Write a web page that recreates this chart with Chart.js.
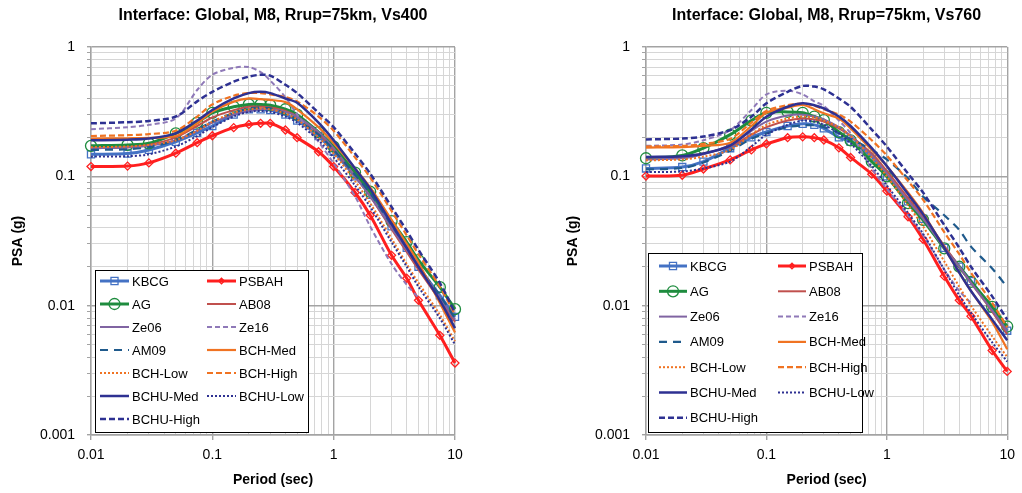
<!DOCTYPE html>
<html>
<head>
<meta charset="utf-8">
<script src="https://cdn.jsdelivr.net/npm/chart.js@4.4.0/dist/chart.umd.min.js"></script>
<style>
  body { margin: 0; background: #fff; }
  #wrap { position: relative; width: 1022px; height: 493px; }
  canvas { position: absolute; top: 0; }
</style>
</head>
<body>
<div id="wrap">
  <canvas id="graficoVs400" width="511" height="493" style="left:0"></canvas>
  <canvas id="graficoVs760" width="511" height="493" style="left:511px"></canvas>
</div>
<script>
const periodos = [0.01, 0.02, 0.03, 0.05, 0.075, 0.1, 0.15, 0.2, 0.25, 0.3, 0.4, 0.5, 0.75, 1, 1.5, 2, 3, 4, 5, 7.5, 10];
const nomes = ['KBCG', 'PSBAH', 'AG', 'AB08', 'Ze06', 'Ze16', 'AM09', 'BCH-Med', 'BCH-Low', 'BCH-High', 'BCHU-Med', 'BCHU-Low', 'BCHU-High'];

// Vs400
const kbcg400   = [0.148, 0.150, 0.160, 0.185, 0.217, 0.245, 0.300, 0.330, 0.330, 0.325, 0.300, 0.270, 0.205, 0.155, 0.100, 0.072, 0.041, 0.028, 0.020, 0.0120, 0.0082];
const psbah400  = [0.119, 0.120, 0.127, 0.151, 0.182, 0.206, 0.238, 0.252, 0.257, 0.257, 0.228, 0.199, 0.155, 0.119, 0.075, 0.050, 0.0245, 0.0163, 0.011, 0.0059, 0.0036];
const ag400     = [0.172, 0.175, 0.180, 0.215, 0.260, 0.310, 0.345, 0.360, 0.360, 0.355, 0.330, 0.300, 0.220, 0.170, 0.107, 0.076, 0.045, 0.031, 0.0225, 0.0139, 0.0094];
const ab08_400  = [0.165, 0.168, 0.175, 0.200, 0.245, 0.285, 0.325, 0.345, 0.345, 0.340, 0.320, 0.290, 0.215, 0.160, 0.100, 0.070, 0.039, 0.026, 0.019, 0.011, 0.0075];
const ze06_400  = [0.165, 0.167, 0.172, 0.190, 0.225, 0.260, 0.300, 0.320, 0.330, 0.330, 0.315, 0.290, 0.220, 0.165, 0.100, 0.070, 0.040, 0.027, 0.020, 0.0115, 0.0078];
const ze16_400  = [0.231, 0.240, 0.250, 0.280, 0.465, 0.610, 0.690, 0.700, 0.640, 0.550, 0.410, 0.300, 0.185, 0.126, 0.070, 0.041, 0.021, 0.0145, 0.0115, null, null];
const am09_400  = [0.160, 0.162, 0.168, 0.190, 0.230, 0.265, 0.310, 0.335, 0.340, 0.335, 0.305, 0.275, 0.210, 0.160, 0.103, 0.074, 0.042, 0.028, 0.020, 0.0120, 0.0080];
const bchMed400 = [0.196, 0.197, 0.198, 0.205, 0.257, 0.317, 0.378, 0.400, 0.395, 0.390, 0.375, 0.330, 0.240, 0.180, 0.115, 0.082, 0.046, 0.030, 0.0215, 0.0105, 0.0062];
const bchLow400 = [0.168, 0.170, 0.175, 0.190, 0.225, 0.265, 0.310, 0.330, 0.335, 0.330, 0.305, 0.275, 0.200, 0.150, 0.092, 0.062, 0.033, 0.021, 0.015, 0.0085, 0.0053];
const bchHigh400 = [0.205, 0.208, 0.212, 0.225, 0.290, 0.360, 0.420, 0.440, 0.440, 0.430, 0.410, 0.380, 0.290, 0.225, 0.140, 0.098, 0.054, 0.035, 0.025, 0.014, 0.0085];
const bchuMed400 = [0.190, 0.192, 0.196, 0.215, 0.270, 0.326, 0.400, 0.440, 0.450, 0.440, 0.400, 0.370, 0.260, 0.190, 0.115, 0.080, 0.043, 0.028, 0.020, 0.0110, 0.0067];
const bchuLow400 = [0.142, 0.143, 0.148, 0.170, 0.205, 0.240, 0.290, 0.315, 0.320, 0.315, 0.290, 0.260, 0.190, 0.140, 0.085, 0.058, 0.031, 0.020, 0.014, 0.0080, 0.0050];
const bchuHigh400 = [0.257, 0.262, 0.268, 0.290, 0.380, 0.450, 0.540, 0.590, 0.610, 0.600, 0.510, 0.440, 0.310, 0.240, 0.150, 0.105, 0.058, 0.038, 0.027, 0.0150, 0.0088];

// Vs760
const kbcg760   = [0.115, 0.118, 0.130, 0.165, 0.200, 0.220, 0.245, 0.255, 0.250, 0.235, 0.200, 0.185, 0.142, 0.100, 0.064, 0.047, 0.028, 0.020, 0.0155, 0.0095, 0.0064];
const psbah760  = [0.1005, 0.102, 0.114, 0.134, 0.160, 0.178, 0.199, 0.202, 0.199, 0.191, 0.166, 0.140, 0.104, 0.077, 0.0487, 0.0326, 0.0169, 0.011, 0.0083, 0.0045, 0.0031];
const ag760     = [0.138, 0.145, 0.165, 0.210, 0.270, 0.310, 0.315, 0.310, 0.290, 0.272, 0.220, 0.190, 0.130, 0.100, 0.062, 0.046, 0.0277, 0.020, 0.0153, 0.0098, 0.0069];
const ab08_760  = [0.140, 0.142, 0.150, 0.170, 0.210, 0.240, 0.270, 0.280, 0.275, 0.265, 0.235, 0.205, 0.150, 0.110, 0.068, 0.049, 0.029, 0.020, 0.015, 0.0090, 0.0060];
const ze06_760  = [0.135, 0.138, 0.148, 0.175, 0.225, 0.265, 0.295, 0.300, 0.290, 0.275, 0.240, 0.205, 0.145, 0.105, 0.065, 0.047, 0.028, 0.020, 0.015, 0.0092, 0.0063];
const ze16_760  = [0.172, 0.176, 0.190, 0.228, 0.326, 0.430, 0.460, 0.430, 0.380, 0.350, 0.270, 0.215, 0.115, 0.080, 0.050, 0.035, 0.019, 0.013, 0.0105, null, null];
const am09_760  = [0.113, 0.116, 0.128, 0.158, 0.195, 0.215, 0.240, 0.248, 0.248, 0.240, 0.215, 0.195, 0.160, 0.135, 0.0965, 0.0697, 0.050, 0.0385, 0.0286, 0.0194, 0.0139];
const bchMed760 = [0.167, 0.168, 0.172, 0.182, 0.245, 0.310, 0.340, 0.356, 0.330, 0.307, 0.280, 0.235, 0.160, 0.120, 0.075, 0.052, 0.028, 0.018, 0.013, 0.0075, 0.0046];
const bchLow760 = [0.133, 0.135, 0.142, 0.160, 0.210, 0.250, 0.280, 0.290, 0.285, 0.270, 0.240, 0.205, 0.140, 0.100, 0.060, 0.041, 0.022, 0.014, 0.0100, 0.0058, 0.0040];
const bchHigh760 = [0.170, 0.172, 0.178, 0.195, 0.260, 0.320, 0.355, 0.365, 0.350, 0.330, 0.300, 0.265, 0.190, 0.145, 0.092, 0.066, 0.037, 0.025, 0.018, 0.0105, 0.0068];
const bchuMed760 = [0.141, 0.143, 0.150, 0.173, 0.230, 0.289, 0.345, 0.367, 0.355, 0.335, 0.290, 0.245, 0.165, 0.120, 0.073, 0.051, 0.028, 0.018, 0.013, 0.0078, 0.0054];
const bchuLow760 = [0.108, 0.109, 0.115, 0.130, 0.170, 0.210, 0.250, 0.270, 0.265, 0.250, 0.215, 0.180, 0.120, 0.085, 0.052, 0.036, 0.019, 0.012, 0.0088, 0.0052, 0.0037];
const bchuHigh760 = [0.193, 0.196, 0.203, 0.228, 0.289, 0.367, 0.450, 0.500, 0.495, 0.470, 0.400, 0.345, 0.230, 0.170, 0.105, 0.075, 0.042, 0.028, 0.020, 0.0118, 0.0078];

const series400 = [kbcg400, psbah400, ag400, ab08_400, ze06_400, ze16_400, am09_400, bchMed400, bchLow400, bchHigh400, bchuMed400, bchuLow400, bchuHigh400];
const series760 = [kbcg760, psbah760, ag760, ab08_760, ze06_760, ze16_760, am09_760, bchMed760, bchLow760, bchHigh760, bchuMed760, bchuLow760, bchuHigh760];

const estilos = [
  { borderColor: '#4472C4', borderWidth: 3, pointStyle: 'rect', pointRadius: 5 },
  { borderColor: '#FF1F1F', borderWidth: 3, pointStyle: 'rectRot', pointRadius: 4 },
  { borderColor: '#1E8C3E', borderWidth: 3, pointStyle: 'circle', pointRadius: 5.5 },
  { borderColor: '#C0504D', borderWidth: 2 },
  { borderColor: '#8064A2', borderWidth: 2 },
  { borderColor: '#8F79B8', borderWidth: 2, borderDash: [5, 3] },
  { borderColor: '#1F5A8C', borderWidth: 2.2, borderDash: [8, 6] },
  { borderColor: '#F07322', borderWidth: 2.2 },
  { borderColor: '#F07322', borderWidth: 2, borderDash: [2, 2] },
  { borderColor: '#F07322', borderWidth: 2.2, borderDash: [6, 3] },
  { borderColor: '#2E3192', borderWidth: 2.5 },
  { borderColor: '#2E3192', borderWidth: 2, borderDash: [2, 2] },
  { borderColor: '#2E3192', borderWidth: 2.5, borderDash: [6, 3] }
];

// linhas de grade: 1..9 x 10^k
function valoresGrade(min, max) {
  const v = [];
  for (let e = Math.round(Math.log10(min)); e < Math.round(Math.log10(max)); e++) {
    for (let s = 1; s <= 9; s++) v.push(parseFloat((s * Math.pow(10, e)).toPrecision(6)));
  }
  v.push(max);
  return v;
}
function ehDecada(v) {
  const l = Math.log10(v);
  return Math.abs(l - Math.round(l)) < 1e-6;
}

function montarSeries(valores) {
  return nomes.map((nome, i) => ({
    label: nome,
    data: periodos.map((t, j) => ({ x: t, y: valores[i][j] })),
    borderColor: estilos[i].borderColor,
    borderWidth: estilos[i].borderWidth,
    borderDash: estilos[i].borderDash || [],
    pointStyle: estilos[i].pointStyle || 'circle',
    pointRadius: estilos[i].pointRadius || 0,
    pointBorderColor: estilos[i].borderColor,
    pointBackgroundColor: 'rgba(255,255,255,0)',
    pointBorderWidth: 1.3,
    fill: false,
    tension: 0.3,
    clip: false,
    order: nomes.length - i
  }));
}

function desenharMarcador(ctx, estilo, r, x, y) {
  ctx.beginPath();
  if (estilo === 'rect') {
    const s = r * Math.SQRT1_2;
    ctx.rect(x - s, y - s, 2 * s, 2 * s);
  } else if (estilo === 'rectRot') {
    const s = r * Math.SQRT1_2;
    ctx.moveTo(x - s, y); ctx.lineTo(x, y - s); ctx.lineTo(x + s, y); ctx.lineTo(x, y + s); ctx.closePath();
  } else {
    ctx.arc(x, y, r, 0, Math.PI * 2);
  }
  ctx.stroke();
}

// Legenda desenhada dentro da área do gráfico
const legendaPlugin = {
  id: 'legenda',
  afterDraw(chart, args, op) {
    const ctx = chart.ctx;
    ctx.save();
    ctx.fillStyle = '#fff';
    ctx.fillRect(op.x, op.y, op.w, op.h);
    ctx.strokeStyle = '#000';
    ctx.lineWidth = 1;
    ctx.strokeRect(op.x + 0.5, op.y + 0.5, op.w, op.h);
    ctx.font = '13px "Liberation Sans", Arial, sans-serif';
    ctx.textBaseline = 'middle';
    chart.data.datasets.forEach((ds, i) => {
      const y = op.y0 + Math.floor(i / 2) * op.dy;
      const x = i % 2 === 0 ? op.x1 : op.x2;
      ctx.strokeStyle = ds.borderColor;
      ctx.lineWidth = ds.borderWidth;
      ctx.setLineDash(ds.borderDash);
      ctx.beginPath();
      ctx.moveTo(x, y);
      ctx.lineTo(x + op.len, y);
      ctx.stroke();
      ctx.setLineDash([]);
      if (ds.pointRadius > 0) {
        ctx.lineWidth = ds.pointBorderWidth;
        desenharMarcador(ctx, ds.pointStyle, ds.pointRadius, x + op.len / 2, y);
      }
      ctx.fillStyle = '#000';
      ctx.fillText(ds.label, x + op.len + 3, y + 1);
    });
    ctx.restore();
  }
};

function criarGrafico(id, titulo, valores, yScaleWidth, padRight, legenda) {
  const fonte = '"Liberation Sans", Arial, sans-serif';
  new Chart(document.getElementById(id), {
    type: 'line',
    data: { datasets: montarSeries(valores) },
    plugins: [legendaPlugin],
    options: {
      responsive: false,
      animation: false,
      layout: { padding: { left: 0, right: padRight, top: 0, bottom: 0 } },
      plugins: {
        legend: { display: false },
        tooltip: { enabled: false },
        title: {
          display: true,
          text: titulo,
          fullSize: false,
          color: '#000',
          font: { family: fonte, size: 16, weight: 'bold' },
          padding: { top: 6, bottom: 21.8 }
        },
        legenda: legenda
      },
      scales: {
        x: {
          type: 'logarithmic',
          min: 0.01,
          max: 10,
          afterBuildTicks: s => { s.ticks = valoresGrade(0.01, 10).map(v => ({ value: v })); },
          afterFit: s => { s.height = 58; },
          ticks: {
            autoSkip: false,
            maxRotation: 0,
            padding: 7,
            color: '#000',
            font: { family: fonte, size: 14 },
            callback: v => ehDecada(v) ? String(parseFloat(v.toPrecision(6))) : ''
          },
          grid: {
            color: c => (c.tick && ehDecada(c.tick.value)) ? '#A3A3A3' : '#D6D6D6',
            lineWidth: c => (c.tick && ehDecada(c.tick.value)) ? 1.4 : 1,
            tickLength: 5,
            tickColor: c => (c.tick && ehDecada(c.tick.value)) ? '#A3A3A3' : 'rgba(0,0,0,0)'
          },
          border: { color: '#A3A3A3', width: 1.4 },
          title: {
            display: true,
            text: 'Period (sec)',
            color: '#000',
            font: { family: fonte, size: 14, weight: 'bold' },
            padding: { top: 0, bottom: 4.6 }
          }
        },
        y: {
          type: 'logarithmic',
          min: 0.001,
          max: 1,
          afterBuildTicks: s => { s.ticks = valoresGrade(0.001, 1).map(v => ({ value: v })); },
          afterFit: s => { s.width = yScaleWidth; },
          ticks: {
            autoSkip: false,
            padding: 12,
            color: '#000',
            font: { family: fonte, size: 14 },
            callback: v => ehDecada(v) ? String(parseFloat(v.toPrecision(6))) : ''
          },
          grid: {
            color: c => (c.tick && ehDecada(c.tick.value)) ? '#A3A3A3' : '#D6D6D6',
            lineWidth: c => (c.tick && ehDecada(c.tick.value)) ? 1.4 : 1,
            tickLength: 4,
            tickColor: '#A3A3A3'
          },
          border: { color: '#A3A3A3', width: 1.4 },
          title: {
            display: true,
            text: 'PSA (g)',
            color: '#000',
            font: { family: fonte, size: 14, weight: 'bold' },
            padding: { top: yScaleWidth - 91 + 9.6, bottom: 0 }
          }
        }
      }
    }
  });
}

criarGrafico('graficoVs400', 'Interface: Global, M8, Rrup=75km, Vs400', series400, 91, 56,
  { x: 95, y: 270, w: 213, h: 162, y0: 281, dy: 23, x1: 100, x2: 207, len: 29 });
criarGrafico('graficoVs760', 'Interface: Global, M8, Rrup=75km, Vs760', series760, 135, 12,
  { x: 137, y: 253, w: 214, h: 179, y0: 266, dy: 25.3, x1: 148, x2: 267, len: 28 });
</script>
</body>
</html>
